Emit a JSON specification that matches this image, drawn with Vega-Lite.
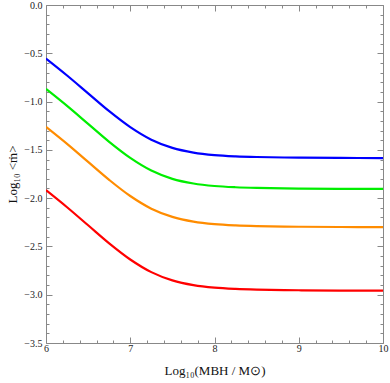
{
  "$schema": "https://vega.github.io/schema/vega-lite/v6.json",
  "autosize": {"type": "none"},
  "padding": {"left": 46, "top": 5, "right": 7, "bottom": 40},
  "width": 337,
  "height": 338,
  "background": "white",
  "config": {
    "view": {"stroke": "#888888", "strokeWidth": 1},
    "axis": {
      "labelFont": "Liberation Serif",
      "titleFont": "Liberation Serif",
      "labelFontSize": 10,
      "titleFontSize": 13,
      "titleFontWeight": "normal",
      "labelColor": "#222222",
      "titleColor": "#111111",
      "grid": false,
      "domain": false,
      "tickColor": "#888888",
      "tickWidth": 1
    }
  },
  "data": {
    "values": [
      {"s": "a", "x": 6.0, "y": -0.555}, {"s": "a", "x": 6.25, "y": -0.730}, {"s": "a", "x": 6.5, "y": -0.915}, {"s": "a", "x": 6.75, "y": -1.100}, {"s": "a", "x": 7.0, "y": -1.265}, {"s": "a", "x": 7.25, "y": -1.395}, {"s": "a", "x": 7.5, "y": -1.480}, {"s": "a", "x": 7.75, "y": -1.528}, {"s": "a", "x": 8.0, "y": -1.554}, {"s": "a", "x": 8.25, "y": -1.567}, {"s": "a", "x": 8.5, "y": -1.574}, {"s": "a", "x": 9.0, "y": -1.581}, {"s": "a", "x": 9.5, "y": -1.584}, {"s": "a", "x": 10.0, "y": -1.585},
      {"s": "b", "x": 6.0, "y": -0.869}, {"s": "b", "x": 6.25, "y": -1.045}, {"s": "b", "x": 6.5, "y": -1.231}, {"s": "b", "x": 6.75, "y": -1.417}, {"s": "b", "x": 7.0, "y": -1.583}, {"s": "b", "x": 7.25, "y": -1.714}, {"s": "b", "x": 7.5, "y": -1.800}, {"s": "b", "x": 7.75, "y": -1.848}, {"s": "b", "x": 8.0, "y": -1.874}, {"s": "b", "x": 8.25, "y": -1.887}, {"s": "b", "x": 8.5, "y": -1.894}, {"s": "b", "x": 9.0, "y": -1.901}, {"s": "b", "x": 9.5, "y": -1.904}, {"s": "b", "x": 10.0, "y": -1.905},
      {"s": "c", "x": 6.0, "y": -1.262}, {"s": "c", "x": 6.25, "y": -1.438}, {"s": "c", "x": 6.5, "y": -1.625}, {"s": "c", "x": 6.75, "y": -1.811}, {"s": "c", "x": 7.0, "y": -1.978}, {"s": "c", "x": 7.25, "y": -2.109}, {"s": "c", "x": 7.5, "y": -2.194}, {"s": "c", "x": 7.75, "y": -2.243}, {"s": "c", "x": 8.0, "y": -2.269}, {"s": "c", "x": 8.25, "y": -2.282}, {"s": "c", "x": 8.5, "y": -2.289}, {"s": "c", "x": 9.0, "y": -2.296}, {"s": "c", "x": 9.5, "y": -2.299}, {"s": "c", "x": 10.0, "y": -2.300},
      {"s": "d", "x": 6.0, "y": -1.917}, {"s": "d", "x": 6.25, "y": -2.094}, {"s": "d", "x": 6.5, "y": -2.281}, {"s": "d", "x": 6.75, "y": -2.468}, {"s": "d", "x": 7.0, "y": -2.635}, {"s": "d", "x": 7.25, "y": -2.766}, {"s": "d", "x": 7.5, "y": -2.852}, {"s": "d", "x": 7.75, "y": -2.901}, {"s": "d", "x": 8.0, "y": -2.927}, {"s": "d", "x": 8.25, "y": -2.940}, {"s": "d", "x": 8.5, "y": -2.947}, {"s": "d", "x": 9.0, "y": -2.954}, {"s": "d", "x": 9.5, "y": -2.957}, {"s": "d", "x": 10.0, "y": -2.958}
    ]
  },
  "layer": [
    {
      "mark": {"type": "line", "strokeWidth": 2.2, "interpolate": "catmull-rom", "clip": true},
      "encoding": {
        "x": {
          "field": "x", "type": "quantitative",
          "scale": {"domain": [6, 10], "nice": false, "zero": false},
          "axis": {
            "orient": "bottom",
            "title": "Log₁₀(MBH / M⊙)",
            "titlePadding": 8,
            "values": [6, 6.2, 6.4, 6.6, 6.8, 7, 7.2, 7.4, 7.6, 7.8, 8, 8.2, 8.4, 8.6, 8.8, 9, 9.2, 9.4, 9.6, 9.8, 10],
            "labelExpr": "abs(datum.value - round(datum.value)) < 0.001 ? format(datum.value, 'd') : ''",
            "tickSize": {"condition": {"test": "abs(datum.value - round(datum.value)) < 0.001", "value": -6}, "value": -3},
            "labelPadding": 6,
            "labelFlush": false,
            "labelOverlap": false
          }
        },
        "y": {
          "field": "y", "type": "quantitative",
          "scale": {"domain": [-3.5, 0], "nice": false, "zero": false},
          "axis": {
            "orient": "left",
            "title": "Log₁₀ <ṁ>",
            "titlePadding": 4,
            "values": [0, -0.1, -0.2, -0.3, -0.4, -0.5, -0.6, -0.7, -0.8, -0.9, -1, -1.1, -1.2, -1.3, -1.4, -1.5, -1.6, -1.7, -1.8, -1.9, -2, -2.1, -2.2, -2.3, -2.4, -2.5, -2.6, -2.7, -2.8, -2.9, -3, -3.1, -3.2, -3.3, -3.4, -3.5],
            "labelExpr": "abs(datum.value*2 - round(datum.value*2)) < 0.001 ? format(datum.value, '.1f') : ''",
            "tickSize": {"condition": {"test": "abs(datum.value*2 - round(datum.value*2)) < 0.001", "value": -6}, "value": -3},
            "labelPadding": 10,
            "labelFlush": false,
            "labelOverlap": false
          }
        },
        "color": {
          "field": "s", "type": "nominal",
          "scale": {"domain": ["a", "b", "c", "d"], "range": ["#0000ff", "#00ee00", "#ff8c00", "#ff0000"]},
          "legend": null
        }
      }
    },
    {
      "mark": {"type": "line", "opacity": 0},
      "encoding": {
        "x": {
          "field": "x", "type": "quantitative",
          "scale": {"domain": [6, 10], "nice": false, "zero": false},
          "axis": {
            "orient": "top",
            "title": null,
            "labels": false,
            "values": [6, 6.2, 6.4, 6.6, 6.8, 7, 7.2, 7.4, 7.6, 7.8, 8, 8.2, 8.4, 8.6, 8.8, 9, 9.2, 9.4, 9.6, 9.8, 10],
            "tickSize": {"condition": {"test": "abs(datum.value - round(datum.value)) < 0.001", "value": -6}, "value": -3}
          }
        },
        "y": {
          "field": "y", "type": "quantitative",
          "scale": {"domain": [-3.5, 0], "nice": false, "zero": false},
          "axis": {
            "orient": "right",
            "title": null,
            "labels": false,
            "values": [0, -0.1, -0.2, -0.3, -0.4, -0.5, -0.6, -0.7, -0.8, -0.9, -1, -1.1, -1.2, -1.3, -1.4, -1.5, -1.6, -1.7, -1.8, -1.9, -2, -2.1, -2.2, -2.3, -2.4, -2.5, -2.6, -2.7, -2.8, -2.9, -3, -3.1, -3.2, -3.3, -3.4, -3.5],
            "tickSize": {"condition": {"test": "abs(datum.value*2 - round(datum.value*2)) < 0.001", "value": -6}, "value": -3}
          }
        },
        "detail": {"field": "s", "type": "nominal"}
      }
    }
  ],
  "resolve": {"axis": {"x": "independent", "y": "independent"}}
}
